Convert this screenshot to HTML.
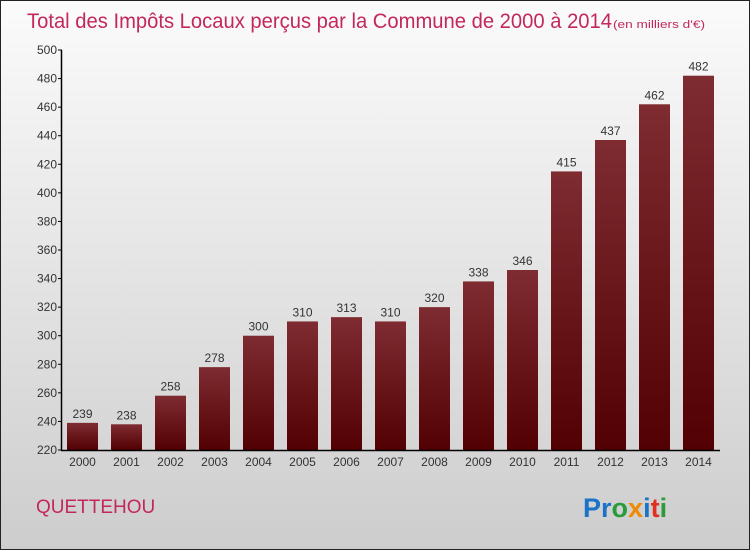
<!DOCTYPE html>
<html><head><meta charset="utf-8"><style>
body{margin:0}
svg{display:block}
text{font-family:"Liberation Sans",sans-serif}
</style></head><body>
<svg width="750" height="550" xmlns="http://www.w3.org/2000/svg">
<defs>
<linearGradient id="bg" x1="0" y1="0" x2="0" y2="1"><stop offset="0" stop-color="#fbfbfb"/><stop offset="1" stop-color="#cdcdcd"/></linearGradient>
<linearGradient id="bar" x1="0" y1="0" x2="0" y2="1"><stop offset="0" stop-color="#7e2c31"/><stop offset="1" stop-color="#520003"/></linearGradient>
</defs>
<rect x="0.5" y="0.5" width="749" height="549" fill="url(#bg)" stroke="#222"/>
<text x="27" y="28" font-size="21" fill="#c4285b" textLength="585" lengthAdjust="spacingAndGlyphs">Total des Impôts Locaux perçus par la Commune de 2000 à 2014</text>
<text x="613" y="28" font-size="11" fill="#c4285b" textLength="92" lengthAdjust="spacingAndGlyphs">(en milliers d'€)</text>
<g id="plot"></g>
<text x="36" y="513" font-size="19" fill="#c4285b">QUETTEHOU</text>
<text x="583" y="517" font-size="27" font-weight="bold"><tspan fill="#1a73c8">Pr</tspan><tspan fill="#2a9a3a">o</tspan><tspan fill="#f08a00">x</tspan><tspan fill="#1a73c8">i</tspan><tspan fill="#e03020">t</tspan><tspan fill="#2a9a3a">i</tspan></text>
</svg>
<script>
const categories=["2000","2001","2002","2003","2004","2005","2006","2007","2008","2009","2010","2011","2012","2013","2014"];
const values=[239,238,258,278,300,310,313,310,320,338,346,415,437,462,482];
const yTicks=[220,240,260,280,300,320,340,360,380,400,420,440,460,480,500];
const NS="http://www.w3.org/2000/svg";
const g=document.getElementById('plot');
const y=v=>450-(v-220)*400/280;
const xc=i=>82.5+i*44;
function el(t,a,p){const e=document.createElementNS(NS,t);for(const k in a)e.setAttribute(k,a[k]);(p||g).appendChild(e);return e;}
categories.forEach((c,i)=>{
 const r=el('rect',{x:xc(i)-15.5,y:y(values[i]),width:31,height:450-y(values[i]),fill:'url(#bar)'});
 
 
 const t=el('text',{x:xc(i),y:y(values[i])-5,'font-size':12,fill:'#333','text-anchor':'middle'});t.textContent=values[i];
 
 
 const l=el('text',{x:xc(i),y:466,'font-size':12,fill:'#333','text-anchor':'middle'});l.textContent=c;
 
 
});
yTicks.forEach(v=>{
 el('line',{x1:58,x2:62,y1:y(v),y2:y(v),stroke:'#000'});
 const t=el('text',{x:57,y:y(v)+4,'font-size':12,fill:'#333','text-anchor':'end'});t.textContent=v;
 
 
});
const ya=el('line',{x1:61.5,x2:61.5,y1:y(500),y2:450.5,stroke:'#000','stroke-width':1.5});


const xa=el('line',{x1:61,x2:720,y1:450.5,y2:450.5,stroke:'#000','stroke-width':1.5});


</script>
</body></html>
